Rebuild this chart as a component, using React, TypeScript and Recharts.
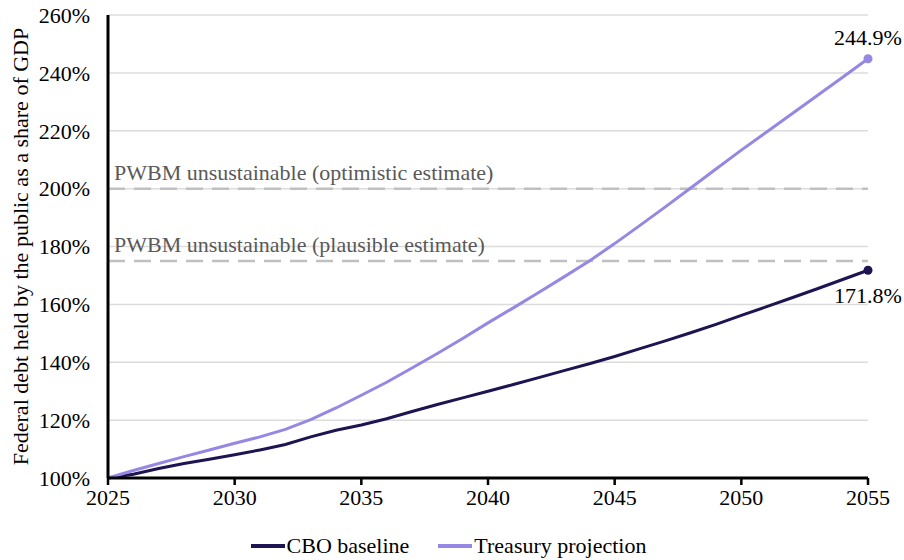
import {
  LineChart,
  Line,
  XAxis,
  YAxis,
  CartesianGrid,
  ReferenceLine,
  Legend,
} from "recharts";

const years = [
  2025, 2026, 2027, 2028, 2029, 2030, 2031, 2032, 2033, 2034, 2035, 2036,
  2037, 2038, 2039, 2040, 2041, 2042, 2043, 2044, 2045, 2046, 2047, 2048,
  2049, 2050, 2051, 2052, 2053, 2054, 2055,
];

const cboBaseline = [
  100, 101.3, 103.3, 105.0, 106.5, 108.0, 109.7, 111.6, 114.2, 116.5, 118.3,
  120.5, 123.0, 125.4, 127.7, 130.0, 132.3, 134.7, 137.1, 139.5, 142.0, 144.7,
  147.4, 150.2, 153.1, 156.2, 159.2, 162.3, 165.4, 168.6, 171.8,
];

const treasuryProjection = [
  100, 102.6, 105.0, 107.4, 109.7, 112.0, 114.2, 116.8, 120.2, 124.2, 128.6,
  133.1, 138.0, 143.0, 148.2, 153.6, 158.8, 164.1, 169.5, 175.0, 181.0, 187.3,
  193.7, 200.2, 206.8, 213.3, 219.6, 225.9, 232.2, 238.5, 244.9,
];

const xTicks = [2025, 2030, 2035, 2040, 2045, 2050, 2055];
const yTicks = [100, 120, 140, 160, 180, 200, 220, 240, 260];

const thresholds = [
  { value: 200, label: "PWBM unsustainable (optimistic estimate)" },
  { value: 175, label: "PWBM unsustainable (plausible estimate)" },
];

const FONT = "Liberation Serif";
const CBO_COLOR = "#1f1452";
const TREASURY_COLOR = "#9687e3";

const chartData = years.map((year, i) => ({
  year,
  cbo: cboBaseline[i],
  treasury: treasuryProjection[i],
}));

const lastIndex = years.length - 1;

const endDot = (color: string) => (props: any) => {
  const { cx, cy, index } = props;
  if (index !== lastIndex) return <g key={`dot-${index}`} />;
  return <circle key={`dot-${index}`} cx={cx} cy={cy} r={4.5} fill={color} />;
};

const endLabel = (offset: number) => (props: any) => {
  const { x, y, index, value } = props;
  if (index !== lastIndex) return null;
  return (
    <text
      x={x}
      y={y + offset}
      textAnchor="middle"
      fontFamily={FONT}
      fontSize={22}
      fill="#000"
    >
      {`${Number(value).toFixed(1)}%`}
    </text>
  );
};

const LegendContent = () => (
  <div
    style={{
      height: 42,
      boxSizing: "border-box",
      paddingTop: 13,
      paddingLeft: 29,
      display: "flex",
      justifyContent: "center",
      fontFamily: FONT,
      fontSize: 22,
      lineHeight: "26px",
      color: "#000",
    }}
  >
    {[
      { name: "CBO baseline", color: CBO_COLOR },
      { name: "Treasury projection", color: TREASURY_COLOR },
    ].map((item, i) => (
      <div
        key={item.name}
        style={{
          display: "flex",
          alignItems: "center",
          marginLeft: i === 0 ? 0 : 29,
        }}
      >
        <span
          style={{
            display: "inline-block",
            width: 34,
            height: 4,
            background: item.color,
            marginRight: 2,
          }}
        />
        <span>{item.name}</span>
      </div>
    ))}
  </div>
);

export default function App() {
  return (
    <div style={{ position: "absolute", left: 0, top: 0, background: "#fff" }}>
      <LineChart
        width={904}
        height={560}
        data={chartData}
        margin={{ top: 15, right: 36, bottom: 0, left: 0 }}
      >
        <CartesianGrid
          vertical={false}
          stroke="#dcdcdc"
          strokeWidth={1.5}
        />
        <XAxis
          dataKey="year"
          type="number"
          domain={[2025, 2055]}
          ticks={xTicks}
          height={40}
          axisLine={{ stroke: "#000", strokeWidth: 3 }}
          tickLine={{ stroke: "#000", strokeWidth: 2.5 }}
          tickSize={7}
          tickMargin={4}
          tick={{ fill: "#000", fontFamily: FONT, fontSize: 22 }}
        />
        <YAxis
          type="number"
          domain={[100, 260]}
          ticks={yTicks}
          width={108}
          axisLine={{ stroke: "#000", strokeWidth: 3 }}
          tickLine={false}
          tickSize={0}
          tickMargin={18}
          tickFormatter={(v: number) => `${v}%`}
          tick={{ fill: "#000", fontFamily: FONT, fontSize: 22 }}
          label={(props: any) => {
            const vb = props.viewBox;
            const cx = 20;
            const cy = vb.y + vb.height / 2;
            return (
              <text
                x={cx}
                y={cy}
                transform={`rotate(-90, ${cx}, ${cy})`}
                textAnchor="middle"
                dominantBaseline="central"
                fontFamily={FONT}
                fontSize={22}
                fill="#000"
              >
                Federal debt held by the public as a share of GDP
              </text>
            );
          }}
        />
        {thresholds.map((t) => (
          <ReferenceLine
            key={t.value}
            y={t.value}
            stroke="#c0c0c0"
            strokeWidth={2.5}
            strokeDasharray="17 9"
            label={(props: any) => {
              const vb = props.viewBox;
              return (
                <text
                  x={vb.x + 6}
                  y={vb.y - 9}
                  fontFamily={FONT}
                  fontSize={22}
                  fill="#595959"
                >
                  {t.label}
                </text>
              );
            }}
          />
        ))}
        <Line
          dataKey="cbo"
          name="CBO baseline"
          stroke={CBO_COLOR}
          strokeWidth={3}
          dot={endDot(CBO_COLOR)}
          activeDot={false}
          label={endLabel(33)}
          isAnimationActive={false}
        />
        <Line
          dataKey="treasury"
          name="Treasury projection"
          stroke={TREASURY_COLOR}
          strokeWidth={3}
          dot={endDot(TREASURY_COLOR)}
          activeDot={false}
          label={endLabel(-14)}
          isAnimationActive={false}
        />
        <Legend verticalAlign="bottom" content={<LegendContent />} />
      </LineChart>
    </div>
  );
}
